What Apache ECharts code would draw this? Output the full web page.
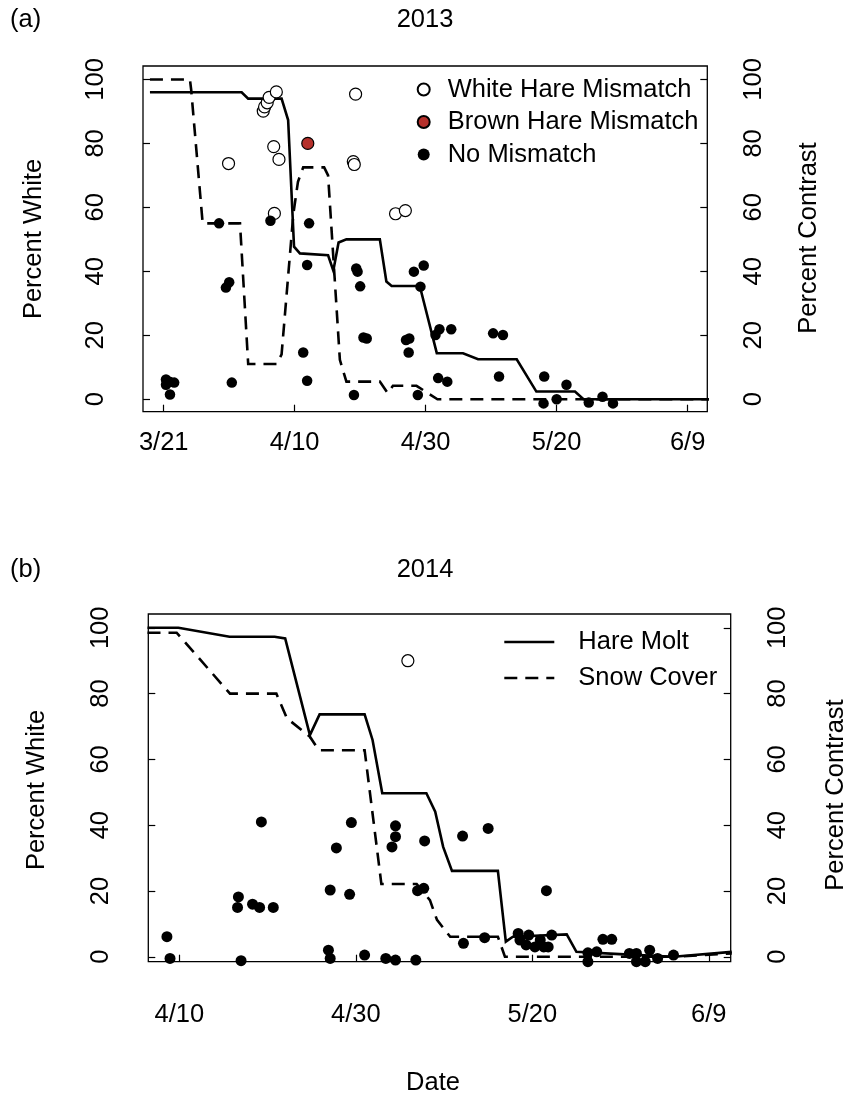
<!DOCTYPE html>
<html><head><meta charset="utf-8">
<script src="https://cdn.jsdelivr.net/npm/echarts@6/dist/echarts.min.js"></script>
<style>html,body{margin:0;padding:0;background:#fff}#c{width:848px;height:1097px}</style>
</head><body><div id="c"></div>
<script>
// ---- tick labels (x in days; panel a from 3/21, panel b from 4/10) ----
const xTickDaysA = [0, 20, 40, 60, 80];
const xTickLabelsA = ['3/21', '4/10', '4/30', '5/20', '6/9'];
const xTickDaysB = [0, 20, 40, 60];
const xTickLabelsB = ['4/10', '4/30', '5/20', '6/9'];
const yTicks = [0, 20, 40, 60, 80, 100];

// ---- 2013 (panel a) ----
const moltA = [[-2.1,96],[11.9,96],[12.9,94],[18.0,94],[19.0,87.3],[19.9,47.7],[20.8,45.6],[25.1,45],[25.9,40.2],[26.7,49],[27.9,50],[33.0,50],[34.0,36.8],[34.8,35.4],[39.1,35.4],[41.7,14.4],[45.7,14.4],[48.0,12.5],[53.9,12.5],[56.9,2.4],[62.8,2.4],[64.1,0],[83.5,0]];
const snowA = [[-2.1,100],[4.0,100],[4.2,96.7],[5.95,55],[11.65,55],[12.9,11],[17.25,11],[18.0,14],[19.8,58],[20.5,68],[21.3,72.5],[24.5,72.5],[25.1,70],[26.9,12.3],[27.9,5.5],[33.0,5.5],[34.2,1.9],[35.0,4.2],[38.6,4.2],[41.8,0],[83.5,0]];
const whiteA = [[9.9,73.7],[15.2,90.1],[15.4,91.4],[15.8,92.7],[16.1,94.4],[17.2,96.1],[16.8,79],[17.6,75],[16.9,58.1],[29.3,95.4],[28.95,74.3],[29.1,73.4],[35.4,58],[36.9,59]];
const brownA = [[22.0,80]];
const noneA = [[0.35,6.2],[0.9,5.5],[1.6,5.2],[0.35,4.5],[0.96,1.5],[10.4,5.2],[8.45,55],[9.5,34.9],[10.0,36.6],[16.3,55.8],[22.2,55],[21.9,42],[21.3,14.6],[21.9,5.8],[29.4,40.9],[29.6,39.9],[30.0,35.3],[30.5,19.3],[31.0,19.0],[29.05,1.3],[37.0,18.5],[37.5,19],[37.4,14.6],[38.2,39.9],[39.7,41.8],[39.2,35.2],[38.8,1.3],[41.5,20.1],[42.1,21.9],[43.9,21.9],[41.9,6.6],[43.3,5.5],[50.3,20.6],[51.8,20.1],[51.2,7.1],[58.1,7.1],[58.0,-1.3],[60.0,0],[61.5,4.5],[64.9,-1],[67.0,0.8],[68.6,-1.3]];

// ---- 2014 (panel b) ----
const moltB = [[-3.6,100],[-0.1,100],[5.7,97.3],[10.8,97.3],[12.0,96.8],[14.8,67.4],[15.9,73.7],[21.0,73.7],[21.9,65.9],[23.0,49.7],[28.0,49.7],[29.0,44.1],[29.9,33.4],[30.9,26.1],[36.1,26.1],[37.0,4.6],[37.8,6.1],[43.9,6.8],[45.0,1.5],[49.9,0.8],[56.0,0],[62.6,1.5]];
const snowB = [[-3.6,98.5],[-0.3,98.5],[5.75,80],[11.0,80],[12.2,72.5],[14.8,66.9],[15.8,62.8],[21.0,62.8],[22.9,22.1],[26.9,22.1],[28.4,17.2],[29.2,11.2],[30.7,6.1],[36.1,6.1],[36.9,0],[56.0,0],[62.6,1.0]];
const whiteB = [[25.9,90]];
const noneB = [[-1.4,6.1],[-1.05,-0.5],[7.0,-1.2],[6.7,18.2],[6.6,15],[8.3,16],[9.1,15],[10.65,15],[9.3,41],[17.1,20.3],[19.3,19],[17.8,33.1],[19.5,40.8],[16.9,2],[17.1,-0.5],[21.0,0.5],[23.4,-0.5],[24.5,-1],[26.8,-1],[24.5,39.8],[24.5,36.5],[24.1,33.4],[27.8,35.2],[27.0,20.1],[27.7,20.8],[32.1,36.7],[35.0,39.0],[32.2,4.1],[34.6,5.8],[41.6,20.1],[38.4,7.1],[38.6,5.1],[39.3,3.6],[39.6,6.6],[40.3,3.0],[41.3,3],[41.8,3],[42.2,6.6],[40.9,5.1],[46.3,1.2],[46.3,-1.5],[47.3,1.5],[48.0,5.3],[49.0,5.3],[51.0,1],[51.8,1],[51.8,-1.5],[52.8,-1.5],[53.3,2],[54.2,-0.5],[56.0,0.5]];

const FF = '"Liberation Sans", Arial, Helvetica, sans-serif';
const FS = 25.5;
const chart = echarts.init(document.getElementById('c'), null, {renderer: 'canvas'});

function xAxisCfg(grid, min, max, ticks, labels, margin) {
  return {
    gridIndex: grid, type: 'value', min: min, max: max, position: 'bottom',
    axisLine: {show: false, onZero: false}, splitLine: {show: false},
    axisTick: {show: true, inside: true, length: 7, customValues: ticks, lineStyle: {color: '#000', width: 1.2}},
    axisLabel: {customValues: ticks, margin: margin, fontSize: FS, fontFamily: FF, color: '#000',
      formatter: v => { const i = ticks.indexOf(v); return i >= 0 ? labels[i] : ''; }}
  };
}
function yAxisCfg(grid, pos, min, max) {
  return {
    gridIndex: grid, type: 'value', position: pos, min: min, max: max,
    axisLine: {show: false, onZero: false}, splitLine: {show: false},
    axisTick: {show: true, inside: true, length: 7, customValues: yTicks, lineStyle: {color: '#000', width: 1.2}},
    axisLabel: {customValues: yTicks, rotate: 90, margin: 34, fontSize: FS, fontFamily: FF, color: '#000'}
  };
}
const lineS = (name, data, xi, yi, dashed) => ({
  name: name, type: 'line', data: data, xAxisIndex: xi, yAxisIndex: yi,
  symbol: 'none', showSymbol: false, silent: true, animation: false, z: 2,
  itemStyle: {color: '#000'},
  lineStyle: {color: '#000', width: 2.6, type: dashed ? [13, 8] : 'solid', cap: 'butt', join: 'miter'}
});
const scatS = (name, data, xi, yi, size, fill, border) => ({
  name: name, type: 'scatter', data: data, xAxisIndex: xi, yAxisIndex: yi,
  symbol: 'circle', symbolSize: size, animation: false, z: 3,
  itemStyle: {color: fill, borderColor: border, borderWidth: border === 'transparent' ? 0 : 1.2, opacity: 1}
});
function txt(t, x, y, rot, align) {
  return {type: 'text', x: x, y: y, rotation: rot || 0, z: 10,
    style: {text: t, fontSize: FS, fontFamily: FF, fill: '#000', align: align || 'center', verticalAlign: 'middle'}};
}

chart.setOption({
  animation: false,
  backgroundColor: '#fff',
  grid: [
    {left: 143, top: 66, width: 564.3, height: 345.7, show: true, borderColor: '#000', borderWidth: 1.3, backgroundColor: 'transparent', containLabel: false, outerBoundsMode: 'none'},
    {left: 148.3, top: 614, width: 582.4, height: 347.7, show: true, borderColor: '#000', borderWidth: 1.3, backgroundColor: 'transparent', containLabel: false, outerBoundsMode: 'none'}
  ],
  xAxis: [
    xAxisCfg(0, -3.16, 83.0, xTickDaysA, xTickLabelsA, 18),
    xAxisCfg(1, -3.51, 62.48, xTickDaysB, xTickLabelsB, 40)
  ],
  yAxis: [
    yAxisCfg(0, 'left', -3.9, 104.2),
    yAxisCfg(0, 'right', -3.9, 104.2),
    yAxisCfg(1, 'left', -1.5, 104.2),
    yAxisCfg(1, 'right', -1.5, 104.2)
  ],
  legend: [
    {data: ['White Hare Mismatch', 'Brown Hare Mismatch', 'No Mismatch'], orient: 'vertical',
     left: 416.7, top: 76.5, padding: 0, itemWidth: 38, itemHeight: 12, itemGap: 6.5, icon: 'circle',
     selectedMode: false, textStyle: {fontSize: FS, fontFamily: FF, color: '#000', lineHeight: 25}},
    {data: ['Hare Molt', 'Snow Cover'], orient: 'vertical',
     left: 503, top: 629, padding: 0, itemWidth: 50, itemHeight: 14, itemGap: 10,
     selectedMode: false,
     itemStyle: {opacity: 0, color: 'transparent', borderWidth: 0},
     lineStyle: {width: 2.6},
     textStyle: {fontSize: FS, fontFamily: FF, color: '#000', lineHeight: 25, padding: [0, 0, 0, 19]}}
  ],
  series: [
    lineS('Molt 2013', moltA, 0, 0, false),
    lineS('Snow 2013', snowA, 0, 0, true),
    scatS('White Hare Mismatch', whiteA, 0, 0, 12, '#ffffff', '#000'),
    scatS('Brown Hare Mismatch', brownA, 0, 0, 12, '#b5302b', '#000'),
    scatS('No Mismatch', noneA, 0, 0, 10.5, '#000', 'transparent'),
    lineS('Hare Molt', moltB, 1, 2, false),
    Object.assign(lineS('Snow Cover', snowB, 1, 2, true), {}),
    scatS('White 2014', whiteB, 1, 2, 12, '#ffffff', '#000'),
    scatS('None 2014', noneB, 1, 2, 11, '#000', 'transparent')
  ],
  graphic: [
    txt('(a)', 10, 20, 0, 'left'),
    txt('2013', 425, 20),
    txt('Percent White', 34, 239, Math.PI / 2),
    txt('Percent Contrast', 809, 238, Math.PI / 2),
    txt('(b)', 10, 570, 0, 'left'),
    txt('2014', 425, 570),
    txt('Percent White', 37, 790, Math.PI / 2),
    txt('Percent Contrast', 836, 795, Math.PI / 2),
    txt('Date', 433, 1083)
  ]
});
</script></body></html>
